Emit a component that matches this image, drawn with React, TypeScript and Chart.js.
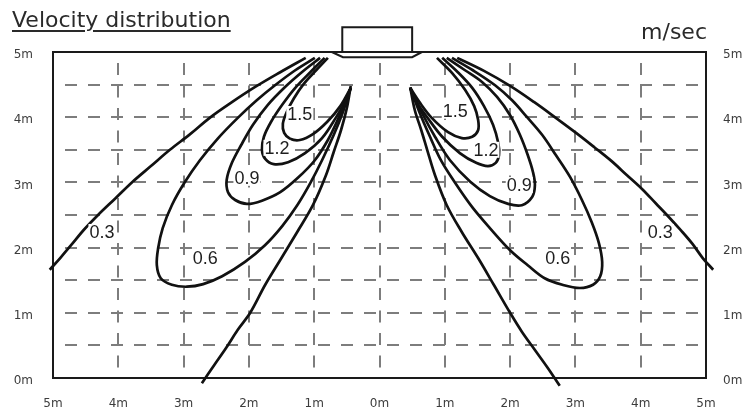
import React, { useEffect, useRef } from 'react';
import { Chart, registerables } from 'chart.js';
Chart.register(...registerables);

// ---- axis / grid values (metres) ----
const X_MIN = -5, X_MAX = 5, Y_MIN = 0, Y_MAX = 5;
const GRID_X = [-4, -3, -2, -1, 0, 1, 2, 3, 4];
const GRID_Y = [0.5, 1, 1.5, 2, 2.5, 3, 3.5, 4, 4.5];

// ---- left jet contours ----
const L03_OUT_X = [-1.13, -1.52, -1.91, -2.26, -2.6, -2.9, -3.21, -3.5, -3.78, -4.05, -4.31, -4.53, -4.72, -4.89, -5.05];
const L03_OUT_Y = [4.91, 4.69, 4.46, 4.23, 3.99, 3.74, 3.5, 3.25, 3.01, 2.75, 2.5, 2.27, 2.04, 1.84, 1.66];
const L03_IN_X = [-0.44, -0.5, -0.59, -0.7, -0.82, -1.02, -1.26, -1.52, -1.75, -1.98, -2.17, -2.35, -2.53, -2.72];
const L03_IN_Y = [4.48, 4.14, 3.8, 3.47, 3.11, 2.65, 2.24, 1.81, 1.43, 1.0, 0.74, 0.46, 0.2, -0.08];
const L06_X = [-0.99, -1.29, -1.6, -1.88, -2.17, -2.47, -2.75, -2.99, -3.18, -3.32, -3.39, -3.41, -3.35, -3.18, -2.95, -2.7, -2.41, -2.06, -1.75, -1.49, -1.26, -1.06, -0.88, -0.7, -0.56, -0.44];
const L06_Y = [4.91, 4.72, 4.49, 4.26, 3.99, 3.68, 3.34, 2.99, 2.65, 2.3, 1.99, 1.73, 1.53, 1.43, 1.4, 1.44, 1.56, 1.78, 2.04, 2.33, 2.65, 2.99, 3.34, 3.73, 4.08, 4.45];
const L09_X = [-0.91, -1.19, -1.45, -1.71, -1.94, -2.12, -2.26, -2.34, -2.32, -2.21, -2.03, -1.8, -1.52, -1.25, -0.99, -0.79, -0.64, -0.53, -0.44];
const L09_Y = [4.91, 4.69, 4.46, 4.19, 3.88, 3.57, 3.3, 3.04, 2.85, 2.73, 2.67, 2.72, 2.85, 3.07, 3.34, 3.65, 3.96, 4.22, 4.45];
const L12_X = [-0.84, -1.06, -1.29, -1.49, -1.66, -1.77, -1.8, -1.75, -1.62, -1.4, -1.14, -0.88, -0.67, -0.53, -0.44];
const L12_Y = [4.91, 4.69, 4.45, 4.19, 3.93, 3.7, 3.5, 3.36, 3.28, 3.31, 3.45, 3.68, 3.99, 4.23, 4.45];
const L15_X = [-0.79, -0.97, -1.16, -1.31, -1.42, -1.48, -1.46, -1.37, -1.22, -1.02, -0.8, -0.6, -0.44];
const L15_Y = [4.91, 4.72, 4.51, 4.29, 4.08, 3.9, 3.76, 3.67, 3.65, 3.74, 3.93, 4.17, 4.45];

// ---- right jet contours ----
const R03_OUT_X = [1.19, 1.6, 2.0, 2.37, 2.7, 3.01, 3.29, 3.55, 3.79, 4.02, 4.23, 4.43, 4.62, 4.79, 4.95, 5.11];
const R03_OUT_Y = [4.91, 4.71, 4.48, 4.23, 3.99, 3.76, 3.54, 3.33, 3.11, 2.9, 2.68, 2.47, 2.26, 2.06, 1.84, 1.66];
const R03_IN_X = [0.47, 0.54, 0.64, 0.73, 0.85, 1.03, 1.26, 1.51, 1.75, 2.0, 2.18, 2.38, 2.58, 2.76];
const R03_IN_Y = [4.46, 4.11, 3.8, 3.5, 3.11, 2.65, 2.24, 1.84, 1.43, 1.0, 0.71, 0.43, 0.15, -0.12];
const R06_X = [1.11, 1.43, 1.77, 2.03, 2.26, 2.49, 2.7, 2.92, 3.1, 3.25, 3.36, 3.41, 3.38, 3.27, 3.07, 2.8, 2.53, 2.27, 2.0, 1.69, 1.42, 1.16, 0.94, 0.76, 0.61, 0.47];
const R06_Y = [4.91, 4.72, 4.49, 4.26, 4.0, 3.73, 3.42, 3.08, 2.73, 2.39, 2.07, 1.78, 1.56, 1.43, 1.38, 1.43, 1.53, 1.73, 1.96, 2.3, 2.62, 2.99, 3.34, 3.73, 4.08, 4.45];
const R09_X = [1.03, 1.31, 1.57, 1.8, 2.0, 2.15, 2.27, 2.35, 2.38, 2.34, 2.18, 1.97, 1.69, 1.39, 1.08, 0.85, 0.67, 0.47];
const R09_Y = [4.91, 4.72, 4.54, 4.31, 4.03, 3.73, 3.42, 3.16, 2.96, 2.78, 2.65, 2.67, 2.79, 3.01, 3.34, 3.7, 4.03, 4.45];
const R12_X = [0.96, 1.2, 1.42, 1.6, 1.74, 1.82, 1.83, 1.78, 1.66, 1.48, 1.23, 0.96, 0.73, 0.57, 0.47];
const R12_Y = [4.91, 4.69, 4.45, 4.17, 3.88, 3.6, 3.42, 3.3, 3.25, 3.3, 3.45, 3.7, 4.0, 4.23, 4.45];
const R15_X = [0.88, 1.11, 1.31, 1.45, 1.51, 1.51, 1.42, 1.26, 1.05, 0.8, 0.62, 0.47];
const R15_Y = [4.91, 4.68, 4.42, 4.17, 3.96, 3.8, 3.7, 3.68, 3.77, 3.99, 4.22, 4.45];

// ---- contour labels ----
const LABEL_TEXT = ['1.5', '1.2', '0.9', '0.6', '0.3', '1.5', '1.2', '0.9', '0.6', '0.3'];
const LABEL_X = [-1.22, -1.57, -2.03, -2.67, -4.25, 1.16, 1.63, 2.14, 2.73, 4.3];
const LABEL_Y = [4.05, 3.53, 3.07, 1.84, 2.24, 4.1, 3.5, 2.96, 1.84, 2.24];

// ---- air outlet unit outline ----
const UNIT_BOX_X = [-0.57, -0.57, 0.5, 0.5];
const UNIT_BOX_Y = [5, 5.38, 5.38, 5];
const UNIT_BASE_X = [-0.73, -0.56, 0.5, 0.65];
const UNIT_BASE_Y = [5, 4.92, 4.92, 5];

const CONTOURS: [number[], number[]][] = [
  [L03_OUT_X, L03_OUT_Y], [L03_IN_X, L03_IN_Y], [L06_X, L06_Y], [L09_X, L09_Y], [L12_X, L12_Y], [L15_X, L15_Y],
  [R03_OUT_X, R03_OUT_Y], [R03_IN_X, R03_IN_Y], [R06_X, R06_Y], [R09_X, R09_Y], [R12_X, R12_Y], [R15_X, R15_Y],
];

const xy = (xs: number[], ys: number[]) => xs.map((x, i) => ({ x, y: ys[i] }));

const TICK_FONT = { family: '"DejaVu Sans", sans-serif', size: 12 };
const TICK_COLOR = '#3c3c3c';

const decorPlugin = {
  id: 'decor',
  beforeDatasetsDraw(chart: any) {
    const { ctx, chartArea: a, scales } = chart;
    const sx = scales.x, sy = scales.y;
    ctx.save();
    ctx.strokeStyle = '#7d7d7d';
    ctx.lineWidth = 2;
    ctx.setLineDash([12, 11]);
    GRID_Y.forEach((v) => {
      const py = Math.round(sy.getPixelForValue(v));
      ctx.beginPath();
      ctx.moveTo(a.left + 12, py);
      ctx.lineTo(a.right, py);
      ctx.stroke();
    });
    ctx.setLineDash([12, 10.5]);
    GRID_X.forEach((v) => {
      const px = Math.round(sx.getPixelForValue(v));
      ctx.beginPath();
      ctx.moveTo(px, a.top + 11);
      ctx.lineTo(px, a.bottom);
      ctx.stroke();
    });
    ctx.setLineDash([]);
    ctx.strokeStyle = '#1a1a1a';
    ctx.lineWidth = 2;
    ctx.strokeRect(a.left, a.top, a.right - a.left, a.bottom - a.top);
    // outlet unit
    const poly = (xs: number[], ys: number[]) => {
      ctx.beginPath();
      xs.forEach((x, i) => {
        const px = sx.getPixelForValue(x), py = sy.getPixelForValue(ys[i]);
        if (i === 0) ctx.moveTo(px, py); else ctx.lineTo(px, py);
      });
      ctx.stroke();
    };
    poly(UNIT_BOX_X, UNIT_BOX_Y);
    poly(UNIT_BASE_X, UNIT_BASE_Y);
    ctx.restore();
  },
  afterDatasetsDraw(chart: any) {
    const { ctx, scales } = chart;
    ctx.save();
    ctx.font = '18px "Liberation Sans", Arial, sans-serif';
    ctx.textAlign = 'center';
    ctx.textBaseline = 'middle';
    LABEL_TEXT.forEach((t, i) => {
      const px = scales.x.getPixelForValue(LABEL_X[i]);
      const py = scales.y.getPixelForValue(LABEL_Y[i]);
      const w = ctx.measureText(t).width;
      ctx.fillStyle = '#ffffff';
      ctx.fillRect(px - w / 2 - 1, py - 8, w + 2, 16);
      ctx.fillStyle = '#1e1e1e';
      ctx.fillText(t, px, py + 1);
    });
    ctx.restore();
  },
};

export default function App() {
  const ref = useRef<HTMLCanvasElement>(null);
  useEffect(() => {
    document.body.style.margin = '0';
    const chart = new Chart(ref.current as HTMLCanvasElement, {
      type: 'line',
      data: {
        datasets: CONTOURS.map(([xs, ys]) => ({
          data: xy(xs, ys),
          borderColor: '#111111',
          borderWidth: 2.7,
          pointRadius: 0,
          tension: 0.35,
          fill: false,
          clip: 12,
        })),
      },
      options: {
        animation: false,
        responsive: false,
        maintainAspectRatio: false,
        layout: { padding: { top: 52, left: 0, right: 0, bottom: 0 } },
        plugins: { legend: { display: false }, tooltip: { enabled: false }, title: { display: false } },
        scales: {
          x: {
            type: 'linear', min: X_MIN, max: X_MAX,
            afterFit: (s: any) => { s.height = 32; },
            grid: { display: false, drawTicks: false },
            border: { display: false },
            ticks: { stepSize: 1, padding: 19, font: TICK_FONT, color: TICK_COLOR, maxRotation: 0, autoSkip: false, callback: (v: any) => Math.abs(Number(v)) + 'm' },
          },
          y: {
            type: 'linear', position: 'left', min: Y_MIN, max: Y_MAX,
            afterFit: (s: any) => { s.width = 53; },
            grid: { display: false, drawTicks: false },
            border: { display: false },
            ticks: { stepSize: 1, padding: 20, labelOffset: 3, font: TICK_FONT, color: TICK_COLOR, callback: (v: any) => v + 'm' },
          },
          y2: {
            type: 'linear', position: 'right', min: Y_MIN, max: Y_MAX,
            afterFit: (s: any) => { s.width = 42; },
            grid: { display: false, drawTicks: false },
            border: { display: false },
            ticks: { stepSize: 1, padding: 17, labelOffset: 3, font: TICK_FONT, color: TICK_COLOR, callback: (v: any) => v + 'm' },
          },
        },
      } as any,
      plugins: [decorPlugin],
    });
    return () => chart.destroy();
  }, []);

  return (
    <div style={{ position: 'relative', width: 748, height: 410, background: '#fff' }}>
      <canvas ref={ref} width={748} height={410} style={{ display: 'block', width: 748, height: 410 }} />
      <div style={{ position: 'absolute', left: 12, top: 7, font: '22px "DejaVu Sans", sans-serif', lineHeight: '26px', color: '#2a2a2a', textDecoration: 'underline', textDecorationThickness: '2px', textUnderlineOffset: '3px', whiteSpace: 'nowrap' }}>
        Velocity distribution
      </div>
      <div style={{ position: 'absolute', right: 41, top: 19, font: '22px "DejaVu Sans", sans-serif', lineHeight: '26px', color: '#2a2a2a', whiteSpace: 'nowrap' }}>
        m/sec
      </div>
    </div>
  );
}
